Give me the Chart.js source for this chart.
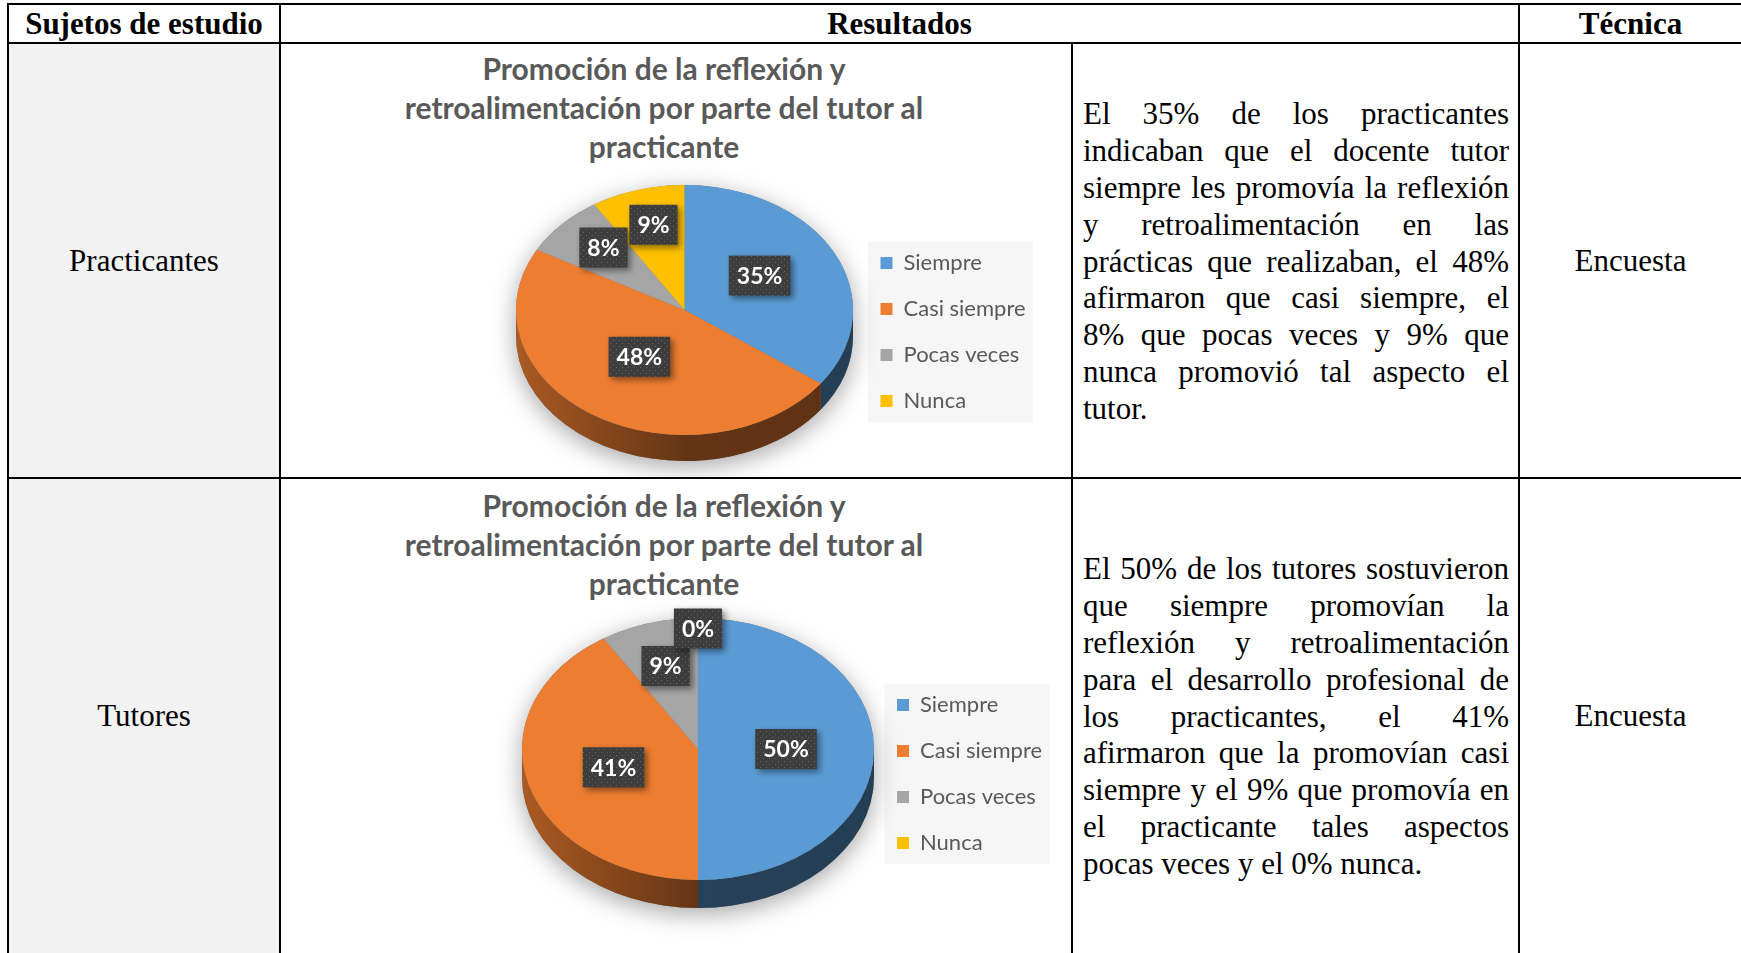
<!DOCTYPE html>
<html lang="es">
<head>
<meta charset="utf-8">
<title>Promoción de la reflexión y retroalimentación</title>
<script src="https://cdn.jsdelivr.net/npm/chart.js@4.4.1/dist/chart.umd.min.js"></script>
<style>
  html, body { margin: 0; padding: 0; background: #fff; }
  body { width: 1741px; height: 953px; position: relative; overflow: hidden;
         font-family: "Liberation Serif", "Times New Roman", serif; color: #000; }
  .hl { position: absolute; left: 7px; width: 1741px; height: 2px; background: #000; }
  .vl { position: absolute; top: 3px; width: 2px; height: 960px; background: #000; }
  .shade { position: absolute; background: #f2f2f2; }
  .cell { position: absolute; display: flex; align-items: center; justify-content: center;
          font-size: 31px; white-space: nowrap; }
  .head { font-weight: bold; }
  .para { position: absolute; left: 1083px; width: 426px; font-size: 31px; line-height: 36.9px; }
  .para div { height: 36.9px; text-align: justify; text-align-last: justify; }
  .para div.last { text-align-last: left; }
  .ctitle { position: absolute; left: 282px; width: 764px; text-align: center;
            font-family: Lato, "Noto Sans", sans-serif; font-weight: bold; font-size: 30px;
            line-height: 39px; color: #595959; white-space: nowrap; }
  canvas { position: absolute; left: 282px; }
</style>
</head>
<body>
<div class="shade" style="left:9px; top:44px; width:270px; height:920px;"></div>

<div class="hl" style="top:3px;"></div>
<div class="hl" style="top:42px;"></div>
<div class="hl" style="top:477px;"></div>
<div class="vl" style="left:7px;"></div>
<div class="vl" style="left:279px;"></div>
<div class="vl" style="left:1071px; top:43px;"></div>
<div class="vl" style="left:1518px;"></div>

<div class="cell head" style="left:9px; top:5px; width:270px; height:38px;">Sujetos de estudio</div>
<div class="cell head" style="left:281px; top:5px; width:1237px; height:38px;">Resultados</div>
<div class="cell head" style="left:1520px; top:5px; width:221px; height:38px;">Técnica</div>

<div class="cell" style="left:9px; top:44px; width:270px; height:433px;">Practicantes</div>
<div class="cell" style="left:9px; top:479px; width:270px; height:474px;">Tutores</div>
<div class="cell" style="left:1520px; top:44px; width:221px; height:433px;">Encuesta</div>
<div class="cell" style="left:1520px; top:479px; width:221px; height:474px;">Encuesta</div>

<div class="ctitle" style="top:49px;">Promoción de la reflexión y<br>retroalimentación por parte del tutor al<br>practicante</div>
<div class="ctitle" style="top:486px;">Promoción de la reflexión y<br>retroalimentación por parte del tutor al<br>practicante</div>

<canvas id="chartPracticantes" width="788" height="432" style="top:45px;"></canvas>
<canvas id="chartTutores" width="788" height="472" style="top:481px;"></canvas>

<div class="para" style="top:96px;">
  <div>El 35% de los practicantes</div>
  <div>indicaban que el docente tutor</div>
  <div>siempre les promovía la reflexión</div>
  <div>y retroalimentación en las</div>
  <div>prácticas que realizaban, el 48%</div>
  <div>afirmaron que casi siempre, el</div>
  <div>8% que pocas veces y 9% que</div>
  <div>nunca promovió tal aspecto el</div>
  <div class="last">tutor.</div>
</div>
<div class="para" style="top:551px;">
  <div>El 50% de los tutores sostuvieron</div>
  <div>que siempre promovían la</div>
  <div>reflexión y retroalimentación</div>
  <div>para el desarrollo profesional de</div>
  <div>los practicantes, el 41%</div>
  <div>afirmaron que la promovían casi</div>
  <div>siempre y el 9% que promovía en</div>
  <div>el practicante tales aspectos</div>
  <div class="last">pocas veces y el 0% nunca.</div>
</div>

<script>
const categories = ['Siempre', 'Casi siempre', 'Pocas veces', 'Nunca'];
const practicantesValues = [35, 48, 8, 9];
const tutoresValues = [50, 41, 9, 0];
const sliceColors = ['#5B9BD5', '#ED7D31', '#A5A5A5', '#FFC000'];

function shade(hex, f) {
  const n = parseInt(hex.slice(1), 16);
  const r = Math.round(((n >> 16) & 255) * f);
  const g = Math.round(((n >> 8) & 255) * f);
  const b = Math.round((n & 255) * f);
  return `rgb(${r},${g},${b})`;
}

function dotPattern(ctx) {
  const c = document.createElement('canvas');
  c.width = 6; c.height = 6;
  const p = c.getContext('2d');
  p.fillStyle = '#3d3d3d';
  p.fillRect(0, 0, 6, 6);
  p.fillStyle = '#666';
  p.fillRect(1, 1, 1, 1);
  p.fillRect(4, 4, 1, 1);
  return ctx.createPattern(c, 'repeat');
}

// fake 3D: fixes the pie box, squashes the top face and draws the side wall + labels
const pie3d = {
  id: 'pie3d',
  afterLayout(chart, args, opts) {
    const a = chart.chartArea;
    a.left = opts.cx - opts.rx; a.right = opts.cx + opts.rx;
    a.top = opts.cy - opts.rx; a.bottom = opts.cy + opts.rx;
    a.width = a.height = opts.rx * 2;

    const lg = chart.legend;
    const pad = lg.options.labels.padding;
    const half = lg.options.labels.font.size / 2;
    const w = lg.width, h = Math.max(lg.height, 300);
    lg.left = opts.legendX - pad; lg.right = lg.left + w;
    lg.top = opts.legendY - half - pad; lg.bottom = lg.top + h;
  },
  beforeDraw(chart, args, opts) {
    const ctx = chart.ctx;
    ctx.save();
    ctx.fillStyle = '#f6f6f6';
    ctx.fillRect(opts.legendX - 12.5, opts.legendY - 21, 165, 180);
    ctx.restore();
  },
  beforeDatasetsDraw(chart, args, opts) {
    const ctx = chart.ctx;
    const arcs = chart.getDatasetMeta(0).data;
    const cx = arcs[0].x, cy = arcs[0].y, rx = arcs[0].outerRadius;
    const ry = opts.ry, d = opts.depth;

    ctx.save();
    ctx.shadowColor = 'rgba(0,0,0,0.35)';
    ctx.shadowBlur = 24;
    ctx.shadowOffsetY = 6;
    ctx.beginPath();
    ctx.ellipse(cx, cy, rx, ry, 0, Math.PI, 2 * Math.PI);
    ctx.lineTo(cx + rx, cy + d);
    ctx.ellipse(cx, cy + d, rx, ry, 0, 0, Math.PI);
    ctx.closePath();
    ctx.fillStyle = '#777';
    ctx.fill();
    ctx.restore();

    arcs.forEach((arc) => {
      const s = Math.max(arc.startAngle, 0);
      const e = Math.min(arc.endAngle, Math.PI);
      if (e <= s) return;
      const col = arc.options.backgroundColor;
      const g = ctx.createLinearGradient(cx - rx, 0, cx + rx, 0);
      g.addColorStop(0, shade(col, 0.72));
      g.addColorStop(0.5, shade(col, 0.42));
      g.addColorStop(1, shade(col, 0.4));
      ctx.beginPath();
      ctx.ellipse(cx, cy, rx, ry, 0, s, e);
      ctx.ellipse(cx, cy + d, rx, ry, 0, e, s, true);
      ctx.closePath();
      ctx.fillStyle = g;
      ctx.fill();
    });

    ctx.save();
    ctx.translate(cx, cy);
    ctx.scale(1, ry / rx);
    ctx.translate(-cx, -cy);
  },
  afterDatasetsDraw(chart, args, opts) {
    const ctx = chart.ctx;
    ctx.restore();

    const arcs = chart.getDatasetMeta(0).data;
    const values = chart.data.datasets[0].data;
    const cx = arcs[0].x, cy = arcs[0].y, rx = arcs[0].outerRadius;
    const k = opts.ry / rx;
    const pattern = dotPattern(ctx);

    ctx.font = 'bold 23px Lato';
    ctx.textAlign = 'center';
    ctx.textBaseline = 'middle';
    arcs.forEach((arc, i) => {
      const v = values[i];
      const mid = (arc.startAngle + arc.endAngle) / 2;
      const f = v === 0 ? 0.92 : (v < 20 ? 0.66 : 0.5);
      const x = cx + f * rx * Math.cos(mid);
      const y = cy + f * rx * Math.sin(mid) * k - opts.labelLift;
      const text = v + '%';
      const w = ctx.measureText(text).width + 16, h = 40;
      ctx.save();
      ctx.shadowColor = 'rgba(0,0,0,0.45)';
      ctx.shadowBlur = 6;
      ctx.shadowOffsetX = 3;
      ctx.shadowOffsetY = 3;
      ctx.fillStyle = pattern;
      ctx.fillRect(x - w / 2, y - h / 2, w, h);
      ctx.restore();
      ctx.fillStyle = '#fff';
      ctx.fillText(text, x, y + 1);
    });
  }
};

function makeChart(id, values, geo) {
  return new Chart(document.getElementById(id), {
    type: 'pie',
    data: {
      labels: categories,
      datasets: [{ data: values, backgroundColor: sliceColors, borderWidth: 0, clip: false }]
    },
    options: {
      responsive: false,
      animation: false,
      devicePixelRatio: 1,
      events: [],
      plugins: {
        title: { display: false },
        tooltip: { enabled: false },
        legend: {
          position: 'right',
          align: 'start',
          labels: {
            boxWidth: 12, boxHeight: 12, padding: 24, color: '#595959',
            font: { family: 'Lato', size: 22 }
          }
        },
        pie3d: geo
      }
    },
    plugins: [pie3d]
  });
}

makeChart('chartPracticantes', practicantesValues,
  { cx: 402.5, cy: 265, rx: 168.5, ry: 125, depth: 26, labelLift: 6, legendX: 598.5, legendY: 218 });
makeChart('chartTutores', tutoresValues,
  { cx: 416, cy: 268, rx: 176, ry: 131, depth: 28, labelLift: 0, legendX: 615, legendY: 224 });
</script>
</body>
</html>
